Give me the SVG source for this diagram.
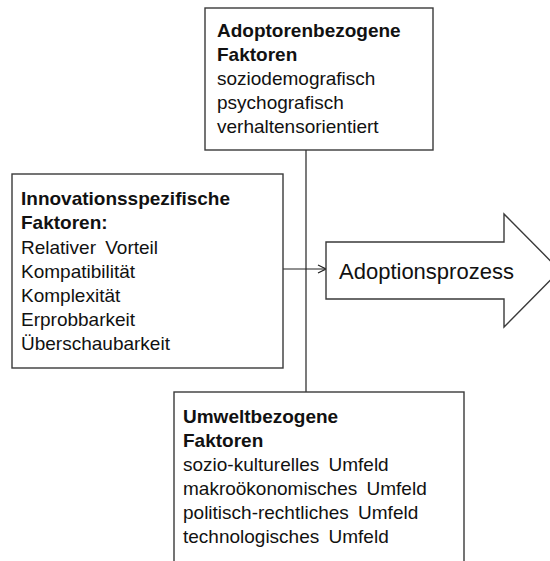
<svg xmlns="http://www.w3.org/2000/svg" width="550" height="561" viewBox="0 0 550 561">
<style>
.box{fill:#fff;stroke:#3a3a3a;stroke-width:1.4}
.t{font-family:"Liberation Sans",Arial,sans-serif;font-size:19px;fill:#111}
.b{font-weight:bold}
.w{word-spacing:4px}
.c{fill:none;stroke:#222;stroke-width:1.2}
</style>
<defs>
<marker id="open" viewBox="0 0 10 10" refX="9" refY="5" markerWidth="10" markerHeight="10" markerUnits="userSpaceOnUse" orient="auto">
<path d="M1,1 L9,5 L1,9" fill="none" stroke="#222" stroke-width="1.2"/>
</marker>
</defs>
<rect width="550" height="561" fill="#fff"/>
<g id="connectors">
<line class="c" x1="306" y1="150" x2="306" y2="392"/>
<line class="c" x1="283" y1="269" x2="326" y2="269" marker-end="url(#open)"/>
</g>
<g id="adoptor">
<rect class="box" x="205" y="8" width="228" height="142"/>
<text class="t b" x="217" y="37">Adoptorenbezogene</text>
<text class="t b" x="217" y="61">Faktoren</text>
<text class="t" x="217" y="85">soziodemografisch</text>
<text class="t" x="217" y="109">psychografisch</text>
<text class="t" x="217" y="133">verhaltensorientiert</text>
</g>
<g id="innovation">
<rect class="box" x="12" y="174" width="271" height="194"/>
<text class="t b" x="21" y="205">Innovationsspezifische</text>
<text class="t b" x="21" y="229">Faktoren:</text>
<text class="t w" x="21" y="254">Relativer Vorteil</text>
<text class="t" x="21" y="278">Kompatibilität</text>
<text class="t" x="21" y="302">Komplexität</text>
<text class="t" x="21" y="326">Erprobbarkeit</text>
<text class="t" x="21" y="350">Überschaubarkeit</text>
</g>
<g id="umwelt">
<rect class="box" x="174" y="392" width="290" height="190"/>
<text class="t b" x="183" y="423">Umweltbezogene</text>
<text class="t b" x="183" y="447">Faktoren</text>
<text class="t w" x="183" y="471">sozio-kulturelles Umfeld</text>
<text class="t w" x="183" y="495">makroökonomisches Umfeld</text>
<text class="t w" x="183" y="519">politisch-rechtliches Umfeld</text>
<text class="t w" x="183" y="543">technologisches Umfeld</text>
</g>
<g id="prozess">
<polygon class="box" points="326,242 504,242 504,214 560,270.5 504,327 504,299 326,299"/>
<text class="t" x="339" y="279" style="font-size:22px">Adoptionsprozess</text>
</g>
</svg>
